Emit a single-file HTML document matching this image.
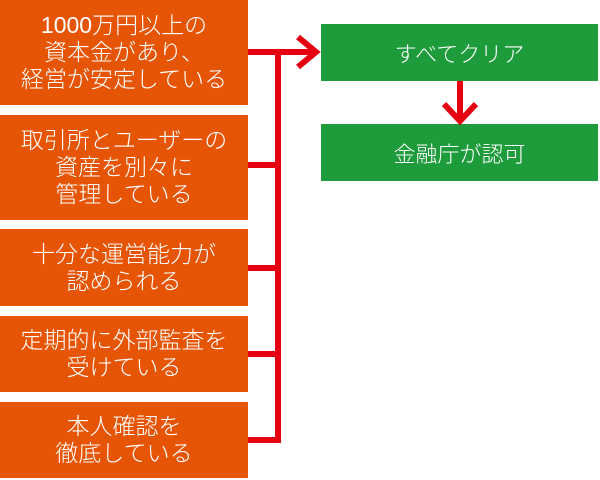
<!DOCTYPE html>
<html><head><meta charset="utf-8"><style>
body{margin:0;width:600px;height:480px;background:#fff;position:relative;overflow:hidden;font-family:"Liberation Sans","Noto Sans CJK JP",sans-serif;}
.b{position:absolute;left:0;width:248px;background:#e65405;color:#fff;font-size:23px;line-height:27px;text-align:center;display:flex;align-items:center;justify-content:center;font-weight:300;}
.g{position:absolute;left:321px;width:277px;height:57px;background:#1e9b3b;color:#fff;font-size:22px;display:flex;align-items:center;justify-content:center;font-weight:300;}
svg{position:absolute;left:0;top:0}
</style></head><body>
<div class="b" style="top:0;height:105px">1000万円以上の<br>資本金があり、<br>経営が安定している</div>
<div class="b" style="top:115px;height:105px">取引所とユーザーの<br>資産を別々に<br>管理している</div>
<div class="b" style="top:229px;height:77px">十分な運営能力が<br>認められる</div>
<div class="b" style="top:316px;height:76px">定期的に外部監査を<br>受けている</div>
<div class="b" style="top:402px;height:76px">本人確認を<br>徹底している</div>
<div class="g" style="top:24px">すべてクリア</div>
<div class="g" style="top:124px">金融庁が認可</div>
<svg width="600" height="480">
<g stroke="#e50012" stroke-width="6" fill="none">
<path d="M248 52H316"/>
<path d="M278 52V440"/>
<path d="M248 165H278M248 268H278M248 354H278M248 440H281"/>
<path d="M298 37L316 52L298 67"/>
<path d="M460 81V120"/>
<path d="M444 104L460 121L476 104"/>
</g></svg>
</body></html>
